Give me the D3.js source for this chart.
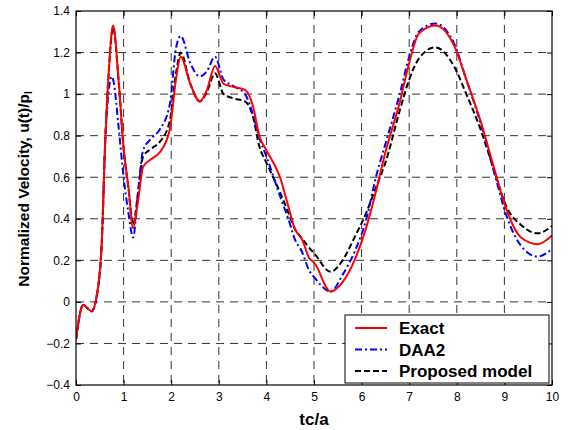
<!DOCTYPE html>
<html>
<head>
<meta charset="utf-8">
<script src="https://cdn.jsdelivr.net/npm/d3@7"></script>
<style>
  body { margin: 0; background: #fff; }
  svg { font-family: Arial, "Liberation Sans", sans-serif; }
</style>
</head>
<body>
<svg id="chart" width="573" height="430"></svg>
<script>
// time axis (tc/a) shared by all three curves
var t = [0, 0.15, 0.33, 0.42, 0.54, 0.61, 0.7, 0.75, 0.78, 0.9, 1.0, 1.1, 1.2, 1.3, 1.41, 1.6, 1.76, 1.97, 2.1, 2.2, 2.4, 2.6, 2.75, 2.92, 3.1, 3.3, 3.55, 3.72, 3.85, 4.0, 4.3, 4.46, 4.6, 4.75, 4.9, 5.0, 5.35, 5.6, 5.85, 6.1, 6.3, 6.5, 6.8, 7.0, 7.2, 7.55, 7.95, 8.2, 8.5, 8.8, 9.05, 9.35, 9.7, 10];

var exact = [-0.18, -0.015, -0.045, 0.01, 0.28, 0.75, 1.15, 1.30, 1.33, 1.05, 0.74, 0.556, 0.355, 0.48, 0.65, 0.69, 0.72, 0.83, 1.07, 1.18, 1.05, 0.965, 1.02, 1.135, 1.05, 1.035, 1.02, 0.94, 0.8, 0.73, 0.59, 0.46, 0.35, 0.30, 0.21, 0.19, 0.05, 0.095, 0.2, 0.36, 0.53, 0.72, 0.96, 1.15, 1.29, 1.33, 1.23, 1.07, 0.87, 0.63, 0.44, 0.31, 0.278, 0.32];

var daa2 = [-0.18, -0.015, -0.045, 0.01, 0.28, 0.75, 1.04, 1.085, 1.07, 0.83, 0.6, 0.43, 0.31, 0.52, 0.73, 0.79, 0.83, 0.95, 1.22, 1.28, 1.15, 1.085, 1.11, 1.18, 1.07, 1.04, 1.0, 0.9, 0.79, 0.70, 0.5, 0.4, 0.3, 0.24, 0.15, 0.12, 0.05, 0.13, 0.24, 0.40, 0.6, 0.76, 1.0, 1.18, 1.30, 1.34, 1.24, 1.07, 0.86, 0.61, 0.41, 0.27, 0.218, 0.255];

var proposed = [-0.18, -0.015, -0.045, 0.01, 0.28, 0.75, 1.15, 1.29, 1.32, 1.05, 0.74, 0.55, 0.37, 0.52, 0.70, 0.74, 0.77, 0.87, 1.1, 1.20, 1.05, 0.965, 1.01, 1.10, 1.0, 0.98, 0.965, 0.89, 0.75, 0.67, 0.52, 0.43, 0.35, 0.305, 0.26, 0.235, 0.145, 0.2, 0.31, 0.43, 0.55, 0.67, 0.92, 1.07, 1.17, 1.225, 1.13, 1.0, 0.83, 0.62, 0.455, 0.37, 0.33, 0.365];

var xTicks = [0, 1, 2, 3, 4, 5, 6, 7, 8, 9, 10];
var yTicks = [-0.4, -0.2, 0, 0.2, 0.4, 0.6, 0.8, 1, 1.2, 1.4];
var legendNames = ["Exact", "DAA2", "Proposed model"];

var margin = {top: 11, right: 21, bottom: 45, left: 76};
var width = 573 - margin.left - margin.right;
var height = 430 - margin.top - margin.bottom;

var svg = d3.select("#chart");
var g = svg.append("g")
    .attr("transform", `translate(${margin.left},${margin.top})`);

var x = d3.scaleLinear().domain([0, 10]).range([0, width]);
var y = d3.scaleLinear().domain([-0.4, 1.4]).range([height, 0]);

// grid
g.append("g").selectAll("line")
    .data(xTicks.slice(1, -1))
    .join("line")
    .attr("x1", d => x(d)).attr("x2", d => x(d))
    .attr("y1", 0).attr("y2", height)
    .attr("stroke", "#333").attr("stroke-dasharray", "8,6");
g.append("g").selectAll("line")
    .data(yTicks.slice(1, -1))
    .join("line")
    .attr("y1", d => y(d)).attr("y2", d => y(d))
    .attr("x1", 0).attr("x2", width)
    .attr("stroke", "#333").attr("stroke-dasharray", "8,6");

// axes, ticks pointing inward on all four sides
var fmt = d => d3.format("")(+d.toFixed(1));
g.append("g")
    .attr("transform", `translate(0,${height})`)
    .call(d3.axisBottom(x).tickValues(xTicks).tickSizeInner(-5).tickSizeOuter(0).tickPadding(7).tickFormat(fmt))
    .call(a => a.select(".domain").remove());
g.append("g")
    .call(d3.axisLeft(y).tickValues(yTicks).tickSizeInner(-5).tickSizeOuter(0).tickPadding(6).tickFormat(fmt))
    .call(a => a.select(".domain").remove());
g.append("g")
    .call(d3.axisTop(x).tickValues(xTicks).tickSizeInner(-5).tickSizeOuter(0).tickFormat(""))
    .call(a => a.select(".domain").remove());
g.append("g")
    .attr("transform", `translate(${width},0)`)
    .call(d3.axisRight(y).tickValues(yTicks).tickSizeInner(-5).tickSizeOuter(0).tickFormat(""))
    .call(a => a.select(".domain").remove());
g.selectAll(".tick text").attr("font-size", 12).attr("font-family", "Arial, 'Liberation Sans', sans-serif").attr("fill", "#000");
g.selectAll(".tick line").attr("stroke", "#000");

var series = [
  {name: legendNames[0], values: exact, color: "#ff0000", dash: null},
  {name: legendNames[1], values: daa2, color: "#0000ff", dash: "7,3,2,3"},
  {name: legendNames[2], values: proposed, color: "#000000", dash: "6,3"}
];

var line = d3.line()
    .x((d, i) => x(t[i]))
    .y(d => y(d))
    .curve(d3.curveMonotoneX);

g.append("defs").append("clipPath").attr("id", "clip")
  .append("rect").attr("width", width).attr("height", height);

g.append("g").attr("clip-path", "url(#clip)")
  .selectAll("path")
  .data(series.slice().reverse())
  .join("path")
    .attr("d", d => line(d.values))
    .attr("fill", "none")
    .attr("stroke", d => d.color)
    .attr("stroke-width", 2)
    .attr("stroke-dasharray", d => d.dash);

// plot box
g.append("rect")
    .attr("width", width).attr("height", height)
    .attr("fill", "none").attr("stroke", "#000").attr("stroke-width", 1.2);

// legend, lower right corner
var lw = 204, lh = 68;
var lg = g.append("g").attr("transform", `translate(${width - 3 - lw},${height - 2 - lh})`);
lg.append("rect")
    .attr("width", lw).attr("height", lh)
    .attr("fill", "#fff").attr("stroke", "#000").attr("stroke-width", 1);
series.forEach(function(s, i){
  var yy = 13 + i * 21.5;
  lg.append("line")
    .attr("x1", 10).attr("x2", 42).attr("y1", yy).attr("y2", yy)
    .attr("stroke", s.color).attr("stroke-width", 2)
    .attr("stroke-dasharray", s.dash);
  lg.append("text")
    .attr("x", 54).attr("y", yy).attr("dy", "0.36em")
    .attr("font-size", 17).attr("font-weight", "bold")
    .text(s.name);
});

// axis titles
svg.append("text")
    .attr("x", margin.left + width / 2).attr("y", 425)
    .attr("text-anchor", "middle")
    .attr("font-size", 17).attr("font-weight", "bold")
    .text("tc/a");

var yt = svg.append("text")
    .attr("transform", "translate(29,189) rotate(-90)")
    .attr("text-anchor", "middle")
    .attr("font-size", 15.5).attr("font-weight", "bold");
yt.append("tspan").text("Normalized Velocity, u(t)/p");
yt.append("tspan").attr("font-size", 10).attr("dy", 3).text("I");
</script>
</body>
</html>
